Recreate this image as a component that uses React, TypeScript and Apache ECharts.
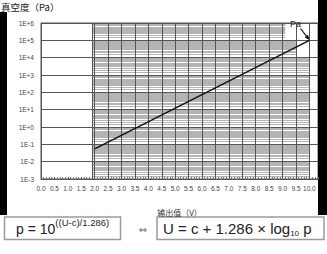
import React, { useEffect, useRef } from "react";
import * as echarts from "echarts";

// Main curve: output voltage (V) vs vacuum pressure (Pa)
const voltage = [2.0, 10.0];
const pressure = [0.055, 1e5];

// Vertical grid lines (V)
const gridVolts = [1.9, 2.0, 2.5, 3.0, 3.5, 4.0, 4.5, 5.0, 5.5, 6.0, 6.5, 7.0, 7.5, 8.0, 8.5, 9.0, 9.5, 10.0];
// Log decades with minor lines, and the minor factors inside each decade
const decades = [-3, -2, -1, 0, 1, 2, 3, 4, 5];
const minorFactors = [1.5, 2, 2.5, 3, 3.5, 4, 4.5, 5, 6, 7, 8, 9];
const minorStart = 1.9;
const minorEnd: Record<number, number> = { 5: 9.1, 4: 9.5 };
const defaultMinorEnd = 10.0;

const LATIN = "Liberation Sans";
const CJK = "Noto Sans CJK SC";

export default function App() {
  const ref = useRef<HTMLDivElement>(null);
  useEffect(() => {
    if (!ref.current) return;
    const chart = echarts.init(ref.current, null, { renderer: "svg" });

    const vLines = gridVolts.map((v) => ({ xAxis: v }));
    const hLines: any[] = [];
    decades.forEach((d) => {
      const end = minorEnd[d] ?? defaultMinorEnd;
      minorFactors.forEach((k) => {
        const val = k * Math.pow(10, d);
        hLines.push([{ coord: [minorStart, val] }, { coord: [end, val] }]);
      });
    });

    const arrowTip = [309.5, 40];
    chart.setOption({
      animation: false,
      grid: {
        left: 41,
        right: 9,
        top: 23,
        bottom: 75,
        show: true,
        borderColor: "#555",
        borderWidth: 1,
        backgroundColor: "#fff",
      },
      xAxis: {
        type: "value",
        min: 0,
        max: 10.32,
        interval: 0.5,
        name: "输出值（V）",
        nameLocation: "middle",
        nameGap: 29,
        nameTextStyle: { fontFamily: CJK, fontSize: 8, color: "#333" },
        axisLine: { show: true, lineStyle: { color: "#555", width: 1 } },
        axisTick: { show: true, inside: true, length: 2, lineStyle: { color: "#555" } },
        minorTick: { show: true, splitNumber: 5, length: 2, lineStyle: { color: "#777" } },
        splitLine: { show: false },
        axisLabel: {
          fontFamily: LATIN,
          fontSize: 6.5,
          color: "#444",
          margin: 6,
          formatter: (v: number) =>
            Math.abs(v * 2 - Math.round(v * 2)) < 1e-6 && v <= 10.0001 ? v.toFixed(1) : "",
        },
      },
      yAxis: {
        type: "log",
        logBase: 10,
        min: 1e-3,
        max: 1e6,
        splitNumber: 9,
        axisLine: { show: true, lineStyle: { color: "#555" } },
        axisTick: { show: false },
        splitLine: { show: true, lineStyle: { color: "#555", width: 1 } },
        axisLabel: {
          fontFamily: LATIN,
          fontSize: 6.5,
          color: "#444",
          margin: 7,
          formatter: (v: number) => {
            const e = Math.round(Math.log10(v));
            return "1E" + (e >= 0 ? "+" : "-") + Math.abs(e);
          },
        },
      },
      series: [
        {
          type: "line",
          data: [],
          z: 1,
          silent: true,
          markLine: {
            silent: true,
            symbol: ["none", "none"],
            label: { show: false },
            animation: false,
            lineStyle: { type: "solid", color: "#b4b4b4", width: 1 },
            data: hLines,
          },
        },
        {
          type: "line",
          data: [],
          z: 2,
          silent: true,
          markLine: {
            silent: true,
            symbol: ["none", "none"],
            label: { show: false },
            animation: false,
            lineStyle: { type: "solid", color: "#555", width: 1 },
            data: vLines,
          },
        },
        {
          name: "Pa",
          type: "line",
          z: 5,
          data: voltage.map((v, i) => [v, pressure[i]]),
          symbol: "none",
          lineStyle: { color: "#111", width: 1.5 },
        },
      ],
      graphic: [
        { type: "rect", shape: { x: 0, y: 12, width: 7, height: 203 }, style: { fill: "#000" } },
        { type: "rect", shape: { x: 318, y: 0, width: 9, height: 215 }, style: { fill: "#000" } },
        {
          type: "text",
          x: 1,
          y: 2,
          z: 10,
          style: { text: "真空度（Pa）", fontFamily: CJK, fontSize: 9.5, fill: "#222", verticalAlign: "top" },
        },
        {
          type: "text",
          x: 290,
          y: 19,
          z: 10,
          style: { text: "Pa", fontFamily: LATIN, fontSize: 9, fill: "#222", verticalAlign: "top" },
        },
        {
          type: "line",
          z: 10,
          shape: { x1: 300.5, y1: 28.5, x2: 307, y2: 36.8 },
          style: { stroke: "#111", lineWidth: 1.2 },
        },
        {
          type: "polygon",
          z: 10,
          shape: { points: [arrowTip, [304.7, 37.5], [308.1, 34.7]] },
          style: { fill: "#111" },
        },
        // Formula boxes
        {
          type: "rect",
          shape: { x: 4.5, y: 217, width: 116, height: 22.5 },
          style: { fill: "#fff", stroke: "#9a9a9a", lineWidth: 1.5 },
        },
        {
          type: "text",
          x: 16,
          y: 217,
          z: 5,
          style: {
            text: "{m|p = 10}{s|((U-c)/1.286)}",
            verticalAlign: "top",
            rich: {
              m: { fontFamily: LATIN, fontSize: 14, lineHeight: 23, fill: "#222", verticalAlign: "middle" },
              s: { fontFamily: LATIN, fontSize: 9.5, lineHeight: 10, fill: "#222", verticalAlign: "top" },
            },
          },
        },
        {
          type: "text",
          x: 143,
          y: 229,
          style: { text: "⇔", fontFamily: "DejaVu Sans", fontSize: 10, fill: "#666", align: "center", verticalAlign: "middle" },
        },
        {
          type: "rect",
          shape: { x: 157, y: 217, width: 167, height: 22.5 },
          style: { fill: "#fff", stroke: "#9a9a9a", lineWidth: 1.5 },
        },
        {
          type: "text",
          x: 163,
          y: 217,
          z: 5,
          style: {
            text: "{m|U = c + 1.286 × log}{sub|10}{m| p}",
            verticalAlign: "top",
            rich: {
              m: { fontFamily: LATIN, fontSize: 15, lineHeight: 23, fill: "#222", verticalAlign: "middle" },
              sub: { fontFamily: LATIN, fontSize: 8, lineHeight: 9, fill: "#222", verticalAlign: "bottom", padding: [0, 0, 3, 0] },
            },
          },
        },
      ],
    });
    return () => chart.dispose();
  }, []);
  return (
    <div
      ref={ref}
      style={{ position: "fixed", left: 0, top: 0, width: 327, height: 254, background: "#fff" }}
    />
  );
}
